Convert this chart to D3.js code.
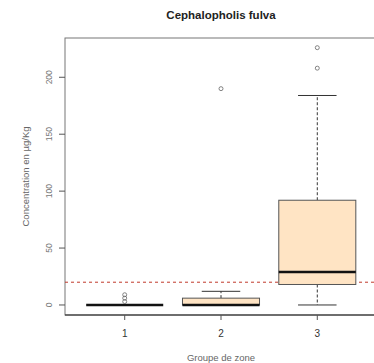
<!DOCTYPE html>
<html>
<head>
<meta charset="utf-8">
<script src="https://cdn.jsdelivr.net/npm/d3@7"></script>
<style>
  html, body { margin: 0; padding: 0; background: #fff; }
  svg { display: block; font-family: "Liberation Sans", Arial, sans-serif; }
</style>
</head>
<body>
<svg id="chart" width="374" height="363"></svg>
<script>
// Box-plot summary per zone group (µg/Kg)
const groups = ["1", "2", "3"];
const whiskerLow = [0, 0, 0];
const q1 = [0, 0, 18];
const median = [0, 0, 29];
const q3 = [0, 6, 92];
const whiskerHigh = [0, 12, 184];
const outliers = [[3, 6, 9], [190], [208, 226]];
const threshold = 20;
const yTicks = [0, 50, 100, 150, 200];

const svg = d3.select("#chart");
const margin = { left: 65, top: 38, right: -3, bottom: 48 };
const W = 374, H = 363;

const x = d3.scaleLinear().domain([0.38, 3.62]).range([margin.left, W - margin.right]);
const y = d3.scaleLinear().domain([-8.8, 234.5]).range([H - margin.bottom, margin.top]);

const boxHalf = 0.4, capHalf = 0.2;
const stroke = "#333";

// plot frame
svg.append("rect")
  .attr("x", x(0.38)).attr("y", y(234.5))
  .attr("width", x(3.62) - x(0.38)).attr("height", y(-8.8) - y(234.5))
  .attr("fill", "none").attr("stroke", "#777").attr("stroke-width", 1);
svg.append("line")
  .attr("x1", x(0.38)).attr("x2", W).attr("y1", y(-8.8)).attr("y2", y(-8.8))
  .attr("stroke", "#222").attr("stroke-width", 1.2);

// threshold line
svg.append("line")
  .attr("x1", x(0.38)).attr("x2", x(3.62))
  .attr("y1", y(threshold)).attr("y2", y(threshold))
  .attr("stroke", "#c0392b").attr("stroke-width", 1)
  .attr("stroke-dasharray", "3,3");

const g = svg.append("g");
groups.forEach((name, i) => {
  const cx = i + 1;
  // whiskers
  g.append("line")
    .attr("x1", x(cx)).attr("x2", x(cx))
    .attr("y1", y(q3[i])).attr("y2", y(whiskerHigh[i]))
    .attr("stroke", stroke).attr("stroke-dasharray", "3,2");
  g.append("line")
    .attr("x1", x(cx)).attr("x2", x(cx))
    .attr("y1", y(q1[i])).attr("y2", y(whiskerLow[i]))
    .attr("stroke", stroke).attr("stroke-dasharray", "3,2");
  [whiskerLow[i], whiskerHigh[i]].forEach(v => {
    g.append("line")
      .attr("x1", x(cx - capHalf)).attr("x2", x(cx + capHalf))
      .attr("y1", y(v)).attr("y2", y(v))
      .attr("stroke", stroke).attr("stroke-width", 1);
  });
  // box
  g.append("rect")
    .attr("x", x(cx - boxHalf)).attr("width", x(cx + boxHalf) - x(cx - boxHalf))
    .attr("y", y(q3[i])).attr("height", Math.max(0, y(q1[i]) - y(q3[i])))
    .attr("fill", "#FFE4C4").attr("stroke", "#555").attr("stroke-width", 1);
  // median
  g.append("line")
    .attr("x1", x(cx - boxHalf)).attr("x2", x(cx + boxHalf))
    .attr("y1", y(median[i])).attr("y2", y(median[i]))
    .attr("stroke", "#111").attr("stroke-width", 2.6);
  // outliers
  outliers[i].forEach(v => {
    g.append("circle")
      .attr("cx", x(cx)).attr("cy", y(v)).attr("r", 2)
      .attr("fill", "none").attr("stroke", "#666").attr("stroke-width", 0.8);
  });
});

// y axis ticks and labels
yTicks.forEach(t => {
  svg.append("line")
    .attr("x1", x(0.38) - 6).attr("x2", x(0.38))
    .attr("y1", y(t)).attr("y2", y(t))
    .attr("stroke", "#555");
  svg.append("text")
    .attr("transform", `translate(${x(0.38) - 16},${y(t)}) rotate(-90)`)
    .attr("text-anchor", "middle").attr("dominant-baseline", "central")
    .attr("font-size", 8.5).attr("fill", "#777")
    .text(t);
});

// x axis ticks and labels
groups.forEach((name, i) => {
  svg.append("line")
    .attr("x1", x(i + 1)).attr("x2", x(i + 1))
    .attr("y1", y(-8.8)).attr("y2", y(-8.8) + 5)
    .attr("stroke", "#555");
  svg.append("text")
    .attr("x", x(i + 1)).attr("y", 333)
    .attr("text-anchor", "middle").attr("dominant-baseline", "central")
    .attr("font-size", 10).attr("fill", "#333")
    .text(name);
});

// titles
svg.append("text")
  .attr("x", 221).attr("y", 15)
  .attr("text-anchor", "middle").attr("dominant-baseline", "central")
  .attr("font-size", 11.5).attr("font-weight", "bold").attr("fill", "#222")
  .text("Cephalopholis fulva");
svg.append("text")
  .attr("x", 221).attr("y", 357)
  .attr("text-anchor", "middle").attr("dominant-baseline", "central")
  .attr("font-size", 9.5).attr("fill", "#666")
  .text("Groupe de zone");
svg.append("text")
  .attr("transform", `translate(25,${(y(234.5) + y(-8.8)) / 2}) rotate(-90)`)
  .attr("text-anchor", "middle").attr("dominant-baseline", "central")
  .attr("font-size", 9.5).attr("fill", "#666")
  .text("Concentration en µg/Kg");
</script>
</body>
</html>
